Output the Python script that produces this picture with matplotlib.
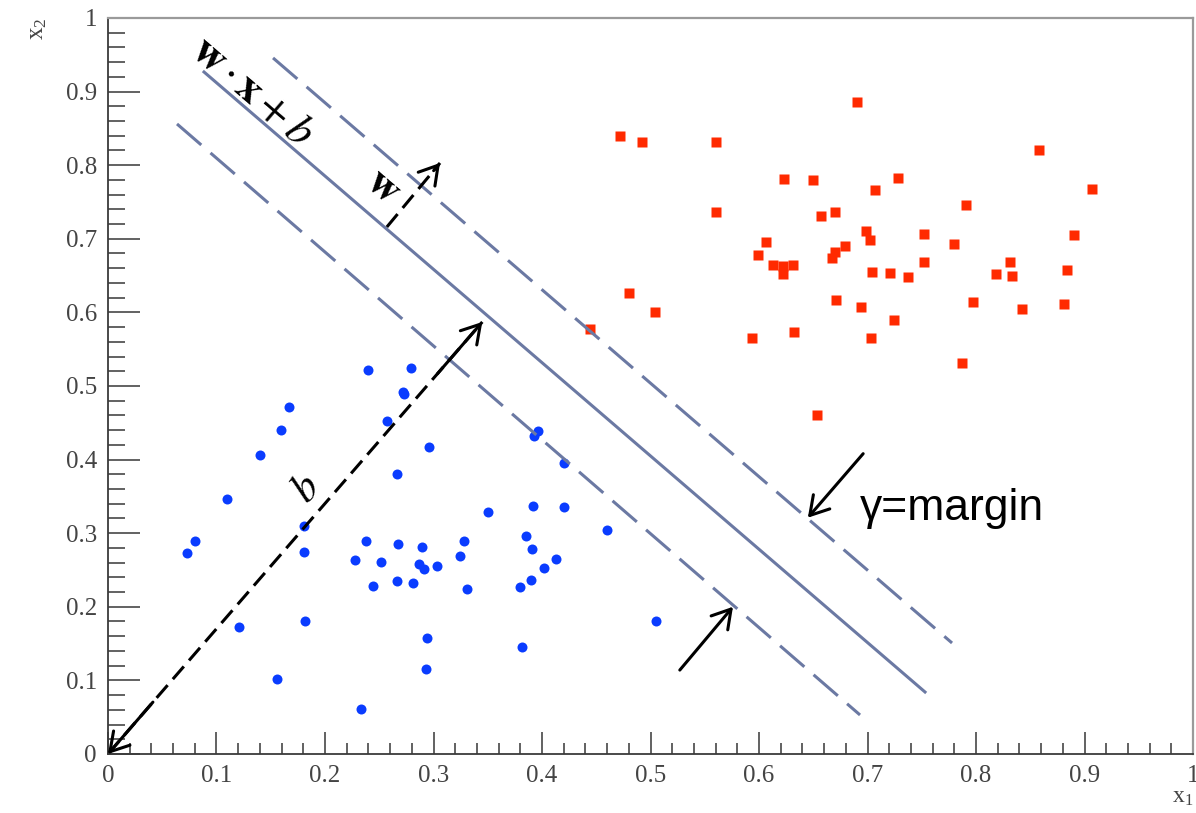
import matplotlib.pyplot as plt
from matplotlib.ticker import MultipleLocator, FuncFormatter

plt.rcParams['font.family'] = ['Liberation Serif', 'DejaVu Serif']
plt.rcParams['mathtext.fontset'] = 'stix'

# class -1 (blue circles)
blue_x = [0.167, 0.159, 0.140, 0.110, 0.080, 0.073, 0.181, 0.181, 0.121, 0.182,
          0.156, 0.240, 0.279, 0.272, 0.273, 0.257, 0.296, 0.266, 0.396, 0.393,
          0.420, 0.350, 0.392, 0.420, 0.460, 0.238, 0.267, 0.289, 0.328, 0.228,
          0.252, 0.287, 0.291, 0.303, 0.324, 0.385, 0.391, 0.413, 0.402, 0.390,
          0.380, 0.244, 0.266, 0.281, 0.331, 0.294, 0.382, 0.293, 0.505, 0.233]
blue_y = [0.471, 0.440, 0.406, 0.347, 0.290, 0.273, 0.310, 0.275, 0.173, 0.181,
          0.102, 0.522, 0.525, 0.492, 0.489, 0.452, 0.417, 0.381, 0.439, 0.432,
          0.396, 0.329, 0.337, 0.335, 0.304, 0.289, 0.285, 0.281, 0.289, 0.263,
          0.261, 0.258, 0.252, 0.256, 0.269, 0.296, 0.279, 0.265, 0.253, 0.236,
          0.227, 0.228, 0.235, 0.232, 0.224, 0.158, 0.145, 0.116, 0.180, 0.061]

# class +1 (red squares)
red_x = [0.472, 0.492, 0.560, 0.623, 0.650, 0.560, 0.657, 0.606, 0.599, 0.613,
         0.622, 0.631, 0.622, 0.480, 0.504, 0.444, 0.594, 0.632, 0.653, 0.690,
         0.858, 0.728, 0.707, 0.907, 0.791, 0.670, 0.699, 0.702, 0.752, 0.890,
         0.780, 0.679, 0.670, 0.667, 0.831, 0.752, 0.884, 0.704, 0.721, 0.737,
         0.818, 0.833, 0.671, 0.797, 0.694, 0.842, 0.881, 0.724, 0.703, 0.787]
red_y = [0.839, 0.832, 0.831, 0.781, 0.780, 0.737, 0.731, 0.696, 0.678, 0.665,
         0.663, 0.665, 0.652, 0.626, 0.600, 0.578, 0.565, 0.574, 0.460, 0.886,
         0.821, 0.782, 0.766, 0.768, 0.746, 0.736, 0.710, 0.699, 0.707, 0.705,
         0.693, 0.690, 0.682, 0.674, 0.669, 0.669, 0.658, 0.655, 0.653, 0.648,
         0.652, 0.650, 0.617, 0.614, 0.607, 0.604, 0.612, 0.590, 0.565, 0.531]

# hyperplane and margins
hyper_x = [0.0885, 0.753]
hyper_y = [0.9266, 0.0842]
upper_x = [0.1521, 0.7779]
upper_y = [0.9457, 0.1508]
lower_x = [0.0636, 0.6931]
lower_y = [0.8560, 0.0530]

# arrows (tail -> head)
b_x = [0.0, 0.345]
b_y = [0.0, 0.587]
w_x = [0.257, 0.306]
w_y = [0.716, 0.803]
mhi_x = [0.696, 0.645]
mhi_y = [0.408, 0.321]
mlo_x = [0.527, 0.576]
mlo_y = [0.114, 0.200]

line_c = '#6b79a3'
head = dict(arrowstyle='->, head_length=0.5, head_width=0.3', lw=2.2, color='k',
            mutation_scale=26, shrinkA=0, shrinkB=0)


def add_head(ax, x0, y0, x1, y1):
    # short solid piece at the tip carrying the arrow head
    f = 0.12
    ax.annotate('', xy=(x1, y1), xytext=(x1 - f * (x1 - x0), y1 - f * (y1 - y0)),
                arrowprops=head)


fig = plt.figure(figsize=(11.96, 8.13), dpi=100)
ax = fig.add_axes([0.0903, 0.0726, 0.9072, 0.9053])

ax.plot(blue_x, blue_y, 'o', color='#0a3cff', ms=7.2, mec='none')
ax.plot(red_x, red_y, 's', color='#ff2a00', ms=7.8, mec='none')

ax.plot(hyper_x, hyper_y, color=line_c, lw=2.2)
ax.plot(upper_x, upper_y, color=line_c, lw=2.2, dashes=(10.5, 4))
ax.plot(lower_x, lower_y, color=line_c, lw=2.2, dashes=(10.5, 4))

# b: distance from origin
ax.plot(b_x, b_y, color='k', lw=2.2, dashes=(5.5, 2.6))
add_head(ax, b_x[1], b_y[1], b_x[0], b_y[0])
add_head(ax, b_x[0], b_y[0], b_x[1], b_y[1])

# normal vector w
ax.plot(w_x, w_y, color='k', lw=2.2, dashes=(5.5, 2.6))
add_head(ax, w_x[0], w_y[0], w_x[1], w_y[1])

# margin arrows
ax.annotate('', xy=(mhi_x[1], mhi_y[1]), xytext=(mhi_x[0], mhi_y[0]), arrowprops=head)
ax.annotate('', xy=(mlo_x[1], mlo_y[1]), xytext=(mlo_x[0], mlo_y[0]), arrowprops=head)

ax.text(0.1327, 0.9000, r'$\mathbf{w}\cdot\mathbf{x}+b$', rotation=-40.7,
        rotation_mode='anchor', ha='center', va='center', fontsize=32)
ax.text(0.2535, 0.7704, r'$\mathbf{w}$', rotation=-40.7,
        rotation_mode='anchor', ha='center', va='center', fontsize=31)
ax.text(0.1831, 0.3587, r'$b$', rotation=48.9,
        rotation_mode='anchor', ha='center', va='center', fontsize=31)
ax.text(0.693, 0.334, 'γ=margin', family='Liberation Sans', fontsize=32,
        ha='left', va='center')

ax.set_xlim(0, 1)
ax.set_ylim(0, 1)
for axis in (ax.xaxis, ax.yaxis):
    axis.set_major_locator(MultipleLocator(0.1))
    axis.set_minor_locator(MultipleLocator(0.02))
    axis.set_major_formatter(FuncFormatter(lambda v, p: '%g' % round(v, 2)))

ax.tick_params(which='both', direction='in', top=False, right=False,
               color='#555555', width=1.3, labelsize=18, labelcolor='#444444', pad=8)
ax.tick_params(axis='y', which='major', length=23)
ax.tick_params(axis='y', which='minor', length=12)
ax.tick_params(axis='x', which='major', length=16)
ax.tick_params(axis='x', which='minor', length=8)

for s in ('left', 'bottom'):
    ax.spines[s].set_color('#3a3a3a')
    ax.spines[s].set_linewidth(1.3)
for s in ('top', 'right'):
    ax.spines[s].set_color('#9a9a9a')
    ax.spines[s].set_linewidth(1.6)

ax.set_xlabel(r'$\mathregular{x_1}$', loc='right', fontsize=17, color='#444444', labelpad=0)
ax.set_ylabel(r'$\mathregular{x_2}$', loc='top', fontsize=18, color='#444444', labelpad=12)

fig.savefig('out.png', dpi=100)
